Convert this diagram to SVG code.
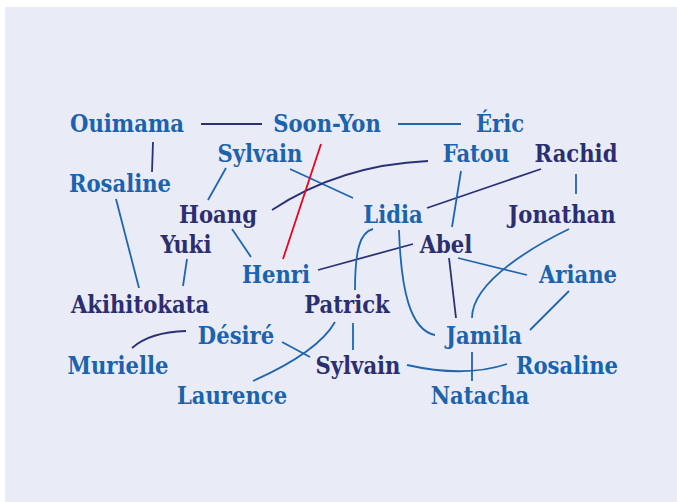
<svg xmlns="http://www.w3.org/2000/svg" width="677" height="502" viewBox="0 0 677 502">
<style>
text{font-family:"DejaVu Serif Condensed","DejaVu Serif","Liberation Serif",serif;font-stretch:condensed;font-weight:bold;font-size:23.5px;text-anchor:middle}
.b{fill:#1b63ac}
.d{fill:#2b2f6f}
.lb{stroke:#1f66ae;stroke-width:1.8;fill:none}
.ld{stroke:#2b3273;stroke-width:1.8;fill:none}
.lr{stroke:#e8001c;stroke-width:1.8;fill:none}
</style>
<rect x="5" y="7" width="672" height="495" fill="#e9ebf7"/>
<g id="connectors">
<line class="ld" x1="201" y1="124" x2="262" y2="124"/>
<line class="lb" x1="398" y1="124" x2="461" y2="124"/>
<line class="ld" x1="153" y1="142" x2="152" y2="172"/>
<line class="lb" x1="226" y1="168" x2="208" y2="200"/>
<line class="lb" x1="290" y1="169" x2="353" y2="198"/>
<path class="ld" d="M272,210 Q340,165 428,161"/>
<line class="ld" x1="541" y1="169" x2="427" y2="208"/>
<line class="lb" x1="461" y1="171" x2="452" y2="227"/>
<line class="lb" x1="576" y1="174" x2="576" y2="194"/>
<line class="lb" x1="116" y1="199" x2="139" y2="288"/>
<line class="lb" x1="187" y1="259" x2="183" y2="286"/>
<line class="lb" x1="232" y1="229" x2="251" y2="257"/>
<line class="ld" x1="318" y1="270" x2="413" y2="244"/>
<path class="lb" d="M373,229 C360,232 355,250 355,290"/>
<path class="lb" d="M399,230 C401,290 410,330 435,335"/>
<line class="ld" x1="449" y1="258" x2="456" y2="318"/>
<line class="lb" x1="458" y1="258" x2="527" y2="275"/>
<path class="lb" d="M569,229 C540,243 472,280 472,318"/>
<line class="lb" x1="569" y1="291" x2="530" y2="330"/>
<path class="ld" d="M186,331 Q150,332 132,348"/>
<line class="lb" x1="282" y1="342" x2="310" y2="357"/>
<path class="lb" d="M335,322 Q318,352 253,381"/>
<line class="lb" x1="353" y1="323" x2="353" y2="350"/>
<path class="lb" d="M407,365 Q465,378 507,364"/>
<line class="lb" x1="472" y1="352" x2="472" y2="381"/>
<line class="lr" x1="321" y1="144" x2="283" y2="259"/>
</g>
<g id="n-ouimama"><text class="b" x="127" y="132">Ouimama</text></g>
<g id="n-soonyon"><text class="b" x="327" y="132">Soon-Yon</text></g>
<g id="n-eric"><text class="b" x="500" y="132">Éric</text></g>
<g id="n-sylvain1"><text class="b" x="260" y="162">Sylvain</text></g>
<g id="n-fatou"><text class="b" x="476" y="162">Fatou</text></g>
<g id="n-rachid"><text class="d" x="576" y="162">Rachid</text></g>
<g id="n-rosaline1"><text class="b" x="120" y="192">Rosaline</text></g>
<g id="n-hoang"><text class="d" x="218" y="223">Hoang</text></g>
<g id="n-lidia"><text class="b" x="393" y="223">Lidia</text></g>
<g id="n-jonathan"><text class="d" x="562" y="223">Jonathan</text></g>
<g id="n-yuki"><text class="d" x="186" y="253">Yuki</text></g>
<g id="n-abel"><text class="d" x="446" y="253">Abel</text></g>
<g id="n-henri"><text class="b" x="276" y="283">Henri</text></g>
<g id="n-ariane"><text class="b" x="578" y="283">Ariane</text></g>
<g id="n-akihitokata"><text class="d" x="140" y="313">Akihitokata</text></g>
<g id="n-patrick"><text class="d" x="347" y="313">Patrick</text></g>
<g id="n-desire"><text class="b" x="236" y="344">Désiré</text></g>
<g id="n-jamila"><text class="b" x="484" y="344">Jamila</text></g>
<g id="n-murielle"><text class="b" x="118" y="374">Murielle</text></g>
<g id="n-sylvain2"><text class="d" x="358" y="374">Sylvain</text></g>
<g id="n-rosaline2"><text class="b" x="567" y="374">Rosaline</text></g>
<g id="n-laurence"><text class="b" x="232" y="404">Laurence</text></g>
<g id="n-natacha"><text class="b" x="480" y="404">Natacha</text></g>
</svg>
